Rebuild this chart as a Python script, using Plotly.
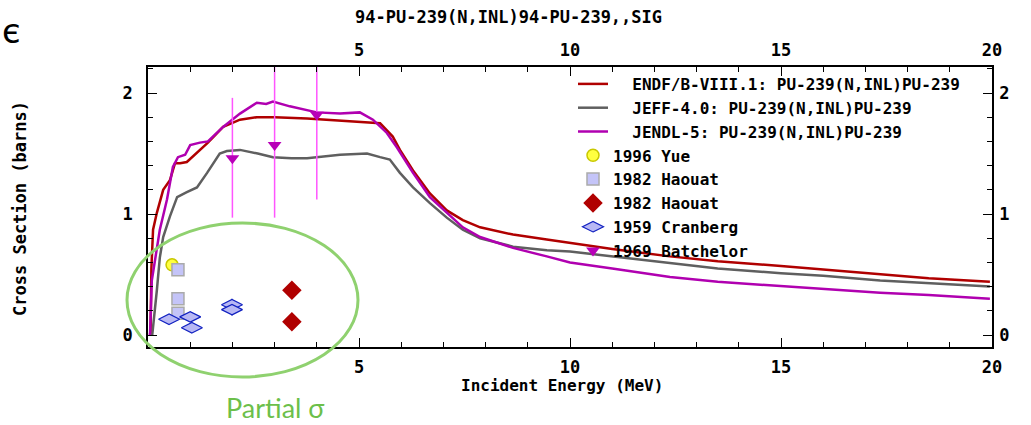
import plotly.graph_objects as go

# evaluated curves (MeV, barns)
endf_x = [0.06, 0.08, 0.12, 0.21, 0.36, 0.52, 0.64, 0.76, 0.92, 1.23, 1.42, 1.78, 2.18, 2.58, 3.0,
          3.77, 4.55, 5.0, 5.33, 5.5, 5.8, 5.97, 6.28, 6.68, 7.08, 7.46, 7.87, 8.65, 9.45, 10.0,
          11.0, 12.37, 13.5, 15.0, 16.0, 17.35, 18.5, 19.95]
endf_y = [0.0, 0.55, 0.87, 1.01, 1.20, 1.28, 1.42, 1.42, 1.43, 1.53, 1.59, 1.72, 1.78, 1.80, 1.80,
          1.79, 1.77, 1.76, 1.75, 1.75, 1.64, 1.53, 1.36, 1.17, 1.03, 0.95, 0.89, 0.83, 0.79, 0.76,
          0.71, 0.65, 0.61, 0.57, 0.54, 0.50, 0.47, 0.44]

jeff_x = [0.10, 0.15, 0.21, 0.28, 0.36, 0.52, 0.69, 0.92, 1.16, 1.40, 1.70, 1.87, 2.18, 2.6, 2.96,
          3.4, 3.77, 4.55, 5.19, 5.5, 5.73, 5.97, 6.28, 6.68, 7.08, 7.46, 7.87, 8.65, 9.45, 10.0,
          11.0, 12.37, 13.5, 15.0, 16.0, 17.35, 18.5, 19.95]
jeff_y = [0.0, 0.2, 0.37, 0.64, 0.81, 0.98, 1.14, 1.18, 1.22, 1.34, 1.50, 1.52, 1.53, 1.50, 1.47,
          1.46, 1.46, 1.49, 1.50, 1.47, 1.45, 1.34, 1.22, 1.09, 0.97, 0.87, 0.80, 0.73, 0.70, 0.69,
          0.65, 0.59, 0.55, 0.51, 0.49, 0.45, 0.43, 0.40]

jendl_x = [0.04, 0.05, 0.09, 0.17, 0.28, 0.45, 0.59, 0.71, 0.88, 1.0, 1.23, 1.42, 1.78, 2.18, 2.58,
           2.8, 2.96, 3.36, 4.0, 4.55, 5.02, 5.33, 5.66, 5.9, 6.28, 6.68, 7.08, 7.46, 7.87, 8.65,
           9.45, 10.0, 11.0, 12.37, 13.5, 15.2, 16.0, 17.35, 18.5, 19.95]
jendl_y = [0.0, 0.02, 0.45, 0.64, 0.87, 1.12, 1.39, 1.47, 1.49, 1.57, 1.59, 1.60, 1.72, 1.83, 1.92,
           1.91, 1.93, 1.89, 1.84, 1.83, 1.84, 1.78, 1.67, 1.55, 1.34, 1.14, 1.01, 0.89, 0.81, 0.72,
           0.65, 0.60, 0.55, 0.48, 0.44, 0.40, 0.38, 0.35, 0.33, 0.30]

# experimental points
yue_x = [0.57]
yue_y = [0.58]
yue_err = [0.05]

haouat_sq_x = [0.71, 0.71, 0.71]
haouat_sq_y = [0.54, 0.30, 0.18]

haouat_dm_x = [3.41, 3.41]
haouat_dm_y = [0.37, 0.11]

cranberg_x = [0.50, 1.00, 1.04, 1.99, 1.99]
cranberg_y = [0.13, 0.15, 0.06, 0.25, 0.21]
cranberg_err = [0.0, 0.0, 0.0, 0.05, 0.05]

batch_x = [2.0, 3.0, 4.0]
batch_y = [1.46, 1.57, 1.82]
batch_up = [0.50, 0.70, 0.70]
batch_dn = [0.49, 0.60, 0.70]

x_ticks = [0, 5, 10, 15, 20]
x_ticktext = ["", "5", "10", "15", "20"]
y_ticks = [0, 1, 2]

W, H = 1031, 425
L, R, T, B = 148, 39, 67, 78
PW, PH = W - L - R, H - T - B

MONO = "DejaVu Sans Mono"


def px(xp):
    return (xp - L) / PW


def py(yp):
    return (H - B - yp) / PH


fig = go.Figure()

fig.add_trace(go.Scatter(x=endf_x, y=endf_y, mode="lines", name="\u00a0\u00a0ENDF/B-VIII.1: PU-239(N,INL)PU-239",
                         line=dict(color="#b00000", width=2.5)))
fig.add_trace(go.Scatter(x=jeff_x, y=jeff_y, mode="lines", name="\u00a0\u00a0JEFF-4.0: PU-239(N,INL)PU-239",
                         line=dict(color="#5f5f5f", width=2.5)))
fig.add_trace(go.Scatter(x=jendl_x, y=jendl_y, mode="lines", name="\u00a0\u00a0JENDL-5: PU-239(N,INL)PU-239",
                         line=dict(color="#b000b0", width=2.5)))

fig.add_trace(go.Scatter(x=yue_x, y=yue_y, mode="markers", name="1996 Yue",
                         marker=dict(symbol="circle", size=12, color="#ffff40",
                                     line=dict(color="#c8c800", width=1.5)),
                         error_y=dict(type="data", array=yue_err, color="#c8c800", width=0, thickness=1.5)))
fig.add_trace(go.Scatter(x=haouat_sq_x, y=haouat_sq_y, mode="markers", name="1982 Haouat",
                         marker=dict(symbol="square", size=12, color="#c4c4f8",
                                     line=dict(color="#aaaaaa", width=1.5))))
fig.add_trace(go.Scatter(x=haouat_dm_x, y=haouat_dm_y, mode="markers", name="1982 Haouat",
                         marker=dict(symbol="diamond", size=15, color="#b00000")))
fig.add_trace(go.Scatter(x=cranberg_x, y=cranberg_y, mode="markers", name="1959 Cranberg",
                         marker=dict(symbol="diamond-wide", size=15, color="#b8b8f4",
                                     line=dict(color="#1020c0", width=1.2)),
                         error_y=dict(type="data", array=cranberg_err, color="#1020c0", width=0, thickness=1)))
fig.add_trace(go.Scatter(x=batch_x, y=batch_y, mode="markers", name="1969 Batchelor",
                         marker=dict(symbol="triangle-down", size=12, color="#b800b8"),
                         error_y=dict(type="data", symmetric=False, array=batch_up, arrayminus=batch_dn,
                                      color="#ff55ff", width=0, thickness=1.5)))

# companion axes (top / right)
fig.add_trace(go.Scatter(x=[None], y=[None], xaxis="x2", yaxis="y2", showlegend=False, hoverinfo="skip"))

axis_font = dict(family=MONO, size=17, color="black", weight="bold")
common = dict(showline=True, linecolor="black", linewidth=1.5, ticks="inside", ticklen=9,
              tickwidth=1.2, tickcolor="black", showgrid=False, zeroline=False, tickfont=axis_font,
              automargin=False)
minor_x = dict(dtick=1, tick0=0, ticks="inside", ticklen=5, tickcolor="black")
minor_y = dict(dtick=0.2, tick0=0, ticks="inside", ticklen=5, tickcolor="black")

x_range = [0, 20]
y_range = [-0.099, 2.215]

fig.update_layout(
    width=W, height=H,
    margin=dict(l=L, r=R, t=T, b=B, autoexpand=False),
    paper_bgcolor="white", plot_bgcolor="white",
    xaxis=dict(range=x_range, tickvals=x_ticks, ticktext=x_ticktext, minor=minor_x,
               ticklabelstandoff=4, **common),
    xaxis2=dict(range=x_range, tickvals=x_ticks, ticktext=x_ticktext, overlaying="x", side="top",
                minor=minor_x, ticklabelstandoff=2, **common),
    yaxis=dict(range=y_range, tickvals=y_ticks, minor=minor_y, ticklabelstandoff=10, **common),
    yaxis2=dict(range=y_range, tickvals=y_ticks, overlaying="y", side="right",
                minor=minor_y, ticklabelstandoff=2, **common),
    legend=dict(x=px(573), y=py(67), xanchor="left", yanchor="top", bgcolor="rgba(0,0,0,0)",
                font=dict(family=MONO, size=16, color="black", weight="bold"),
                itemwidth=30, tracegroupgap=0),
    showlegend=True,
)

fig.add_annotation(text="94-PU-239(N,INL)94-PU-239,,SIG", xref="paper", yref="paper",
                   x=px(508), y=py(17), showarrow=False, xanchor="center", yanchor="middle",
                   font=dict(family=MONO, size=17, color="black", weight="bold"))
fig.add_annotation(text="Incident Energy (MeV)", xref="paper", yref="paper",
                   x=px(562), y=py(385), showarrow=False, xanchor="center", yanchor="middle",
                   font=dict(family=MONO, size=16, color="black", weight="bold"))
fig.add_annotation(text="Cross Section (barns)", xref="paper", yref="paper",
                   x=px(20), y=py(209), showarrow=False, textangle=-90, xanchor="center", yanchor="middle",
                   font=dict(family=MONO, size=17, color="black", weight="bold"))
fig.add_annotation(text="Partial σ", xref="paper", yref="paper",
                   x=px(275), y=py(407), showarrow=False, xanchor="center", yanchor="middle",
                   font=dict(family="Lato", size=27, color="#6cbf4a"))
fig.add_annotation(text="є", xref="paper", yref="paper",
                   x=px(0), y=py(31), showarrow=False, xanchor="left", yanchor="middle",
                   font=dict(family="DejaVu Sans", size=34, color="black"))

fig.add_shape(type="circle", xref="paper", yref="paper",
              x0=px(127), x1=px(358), y0=py(377), y1=py(223),
              line=dict(color="#8fd16f", width=3), fillcolor="rgba(0,0,0,0)")

# drop the browser's default body margin so the figure sits at the page origin
fig.write_html("out.html", config={"displayModeBar": False},
               post_script="document.body.style.margin='0px';")
